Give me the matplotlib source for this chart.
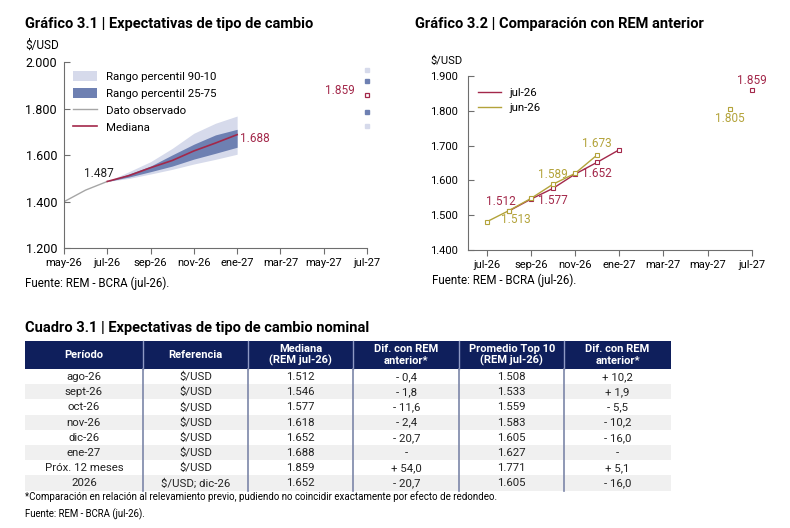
import matplotlib.pyplot as plt
from matplotlib.patches import Rectangle, Patch
from matplotlib.lines import Line2D
from matplotlib.ticker import FuncFormatter

plt.rcParams['font.family'] = ['Roboto', 'DejaVu Sans']

# meses del eje (posicion = indice en la lista)
meses = ['may-26', 'jun-26', 'jul-26', 'ago-26', 'sep-26', 'oct-26', 'nov-26',
         'dic-26', 'ene-27', 'feb-27', 'mar-27', 'abr-27', 'may-27', 'jun-27', 'jul-27']
ticks_izq = ['may-26', 'jul-26', 'sep-26', 'nov-26', 'ene-27', 'mar-27', 'may-27', 'jul-27']
ticks_der = ['jul-26', 'sep-26', 'nov-26', 'ene-27', 'mar-27', 'may-27', 'jul-27']

# Grafico 3.1
obs_meses = ['may-26', 'jun-26', 'jul-26']
obs_valores = [1400, 1450, 1487]
proy_meses = ['jul-26', 'ago-26', 'sep-26', 'oct-26', 'nov-26', 'dic-26', 'ene-27']
mediana = [1487, 1512, 1546, 1577, 1618, 1652, 1688]
p90 = [1487, 1529, 1572, 1629, 1694, 1737, 1768]
p75 = [1487, 1519, 1553, 1601, 1647, 1687, 1711]
p25 = [1487, 1506, 1529, 1553, 1583, 1608, 1634]
p10 = [1487, 1500, 1519, 1539, 1562, 1582, 1604]
mes_12m = 'jul-27'
p12m = {'p10': 1725, 'p25': 1785, 'med': 1859, 'p75': 1920, 'p90': 1965}

# Grafico 3.2
jul_meses = ['ago-26', 'sep-26', 'oct-26', 'nov-26', 'dic-26', 'ene-27']
jul_valores = [1512, 1546, 1577, 1618, 1652, 1688]
jul_12m = ('jul-27', 1859)
jun_meses = ['jul-26', 'ago-26', 'sep-26', 'oct-26', 'nov-26', 'dic-26']
jun_valores = [1481, 1513, 1548, 1589, 1620, 1673]
jun_12m = ('jun-27', 1805)

# Cuadro 3.1
encabezado = ['Período', 'Referencia', 'Mediana\n(REM jul-26)', 'Dif. con REM\nanterior*',
              'Promedio Top 10\n(REM jul-26)', 'Dif. con REM\nanterior*']
periodo = ['ago-26', 'sept-26', 'oct-26', 'nov-26', 'dic-26', 'ene-27', 'Próx. 12 meses', '2026']
referencia = ['\\$/USD'] * 7 + ['\\$/USD; dic-26']
mediana_tab = [1512, 1546, 1577, 1618, 1652, 1688, 1859, 1652]
dif_mediana = [-0.4, -1.8, -11.6, -2.4, -20.7, None, 54.0, -20.7]
top10 = [1508, 1533, 1559, 1583, 1605, 1627, 1771, 1605]
dif_top10 = [10.2, 1.9, -5.5, -10.2, -16.0, None, 5.1, -16.0]

ROJO = '#A3284A'
OLIVA = '#B3A33A'
CLARO = '#D6DAEB'
OSCURO = '#6E80B2'
GRIS = '#A6A6A6'
NAVY = '#0F1F5C'
EJE = '#6E6E6E'


def pos(m):
    return meses.index(m)


def miles(v, _=None):
    return f'{v:,.0f}'.replace(',', '.')


def dif(v):
    if v is None:
        return '-'
    signo = '+' if v > 0 else '-'
    return f'{signo} {abs(v):.1f}'.replace('.', ',')


W, H = 790, 528
fig = plt.figure(figsize=(W / 100, H / 100), dpi=100)


def px_ax(x0, y0, x1, y1):
    return fig.add_axes([x0 / W, 1 - y1 / H, (x1 - x0) / W, (y1 - y0) / H])


def estilo(ax, ysize):
    for s in ['top', 'right']:
        ax.spines[s].set_visible(False)
    for s in ['left', 'bottom']:
        ax.spines[s].set_color(EJE)
        ax.spines[s].set_linewidth(0.8)
    ax.tick_params(axis='y', direction='in', length=4, color=EJE, labelsize=ysize, pad=5)
    ax.tick_params(axis='x', direction='out', length=4, color=EJE, labelsize=8, pad=3)
    ax.yaxis.set_major_formatter(FuncFormatter(miles))


# ---- Grafico 3.1
ax1 = px_ax(64, 62, 367, 248.3)
xp = [pos(m) for m in proy_meses]
ax1.fill_between(xp, p10, p90, color=CLARO, lw=0)
ax1.fill_between(xp, p25, p75, color=OSCURO, lw=0)
ax1.plot([pos(m) for m in obs_meses], obs_valores, color=GRIS, lw=1)
ax1.plot(xp, mediana, color=ROJO, lw=1.2)
x12 = pos(mes_12m)
ax1.plot([x12, x12], [p12m['p10'], p12m['p90']], 's', color=CLARO, ms=3.5, clip_on=False)
ax1.plot([x12, x12], [p12m['p25'], p12m['p75']], 's', color=OSCURO, ms=3.5, clip_on=False)
ax1.plot([x12], [p12m['med']], 's', mfc='white', mec=ROJO, mew=0.9, ms=3.5, clip_on=False)
ax1.set_xlim(0, 14)
ax1.set_ylim(1200, 2000)
ax1.set_yticks([1200, 1400, 1600, 1800, 2000])
ax1.set_xticks([pos(m) for m in ticks_izq], ticks_izq)
estilo(ax1, 9)
ax1.annotate(miles(obs_valores[-1]), (pos(obs_meses[-1]), obs_valores[-1]), xytext=(-6, 6),
             textcoords='offset points', ha='center', va='center', fontsize=8.5, color='#222222')
ax1.annotate(miles(mediana[-1]), (xp[-1], mediana[-1]), xytext=(2, -3),
             textcoords='offset points', ha='left', va='center', fontsize=8.5, color=ROJO)
ax1.annotate(miles(p12m['med']), (x12, p12m['med']), xytext=(-8.5, 3),
             textcoords='offset points', ha='right', va='center', fontsize=8.5, color=ROJO)
h1 = [Patch(color=CLARO, lw=0), Patch(color=OSCURO, lw=0),
      Line2D([], [], color=GRIS, lw=1), Line2D([], [], color=ROJO, lw=1.2)]
ax1.legend(h1, ['Rango percentil 90-10', 'Rango percentil 25-75', 'Dato observado', 'Mediana'],
           loc='upper left', bbox_to_anchor=(0.015, 0.975), frameon=False, fontsize=8.2,
           handlelength=2.1, handleheight=0.9, handletextpad=0.8, labelspacing=0.55,
           borderaxespad=0)
fig.text(25 / W, 1 - 45 / H, '\\$/USD', fontsize=8.5, va='center', ha='left')

# ---- Grafico 3.2
ax2 = px_ax(467.7, 76, 751.7, 250)
ax2.plot([pos(m) for m in jul_meses], jul_valores, color=ROJO, lw=1, marker='s', ms=3,
         mfc='white', mew=0.8)
ax2.plot([pos(m) for m in jun_meses], jun_valores, color=OLIVA, lw=1, marker='s', ms=3,
         mfc='white', mew=0.8)
ax2.plot([pos(jul_12m[0])], [jul_12m[1]], 's', mfc='white', mec=ROJO, mew=0.8, ms=3, clip_on=False)
ax2.plot([pos(jun_12m[0])], [jun_12m[1]], 's', mfc='white', mec=OLIVA, mew=0.8, ms=3, clip_on=False)
ax2.set_xlim(pos('jul-26') - 0.86, pos('jul-27'))
ax2.set_ylim(1400, 1900)
ax2.set_yticks([1400, 1500, 1600, 1700, 1800, 1900])
ax2.set_xticks([pos(m) for m in ticks_der], ticks_der)
estilo(ax2, 8)
ax2.tick_params(axis='y', pad=7)


def etiqueta(ax, mes, valor, dx, dy, color):
    ax.annotate(miles(valor), (pos(mes), valor), xytext=(dx, dy), textcoords='offset points',
                ha='center', va='center', fontsize=8.5, color=color)


etiqueta(ax2, 'ago-26', 1512, -5.5, 6.5, ROJO)
etiqueta(ax2, 'ago-26', 1513, 5, -6.7, OLIVA)
etiqueta(ax2, 'oct-26', 1577, 0, -9, ROJO)
etiqueta(ax2, 'oct-26', 1589, 0, 7.3, OLIVA)
etiqueta(ax2, 'dic-26', 1652, 0, -8.4, ROJO)
etiqueta(ax2, 'dic-26', 1673, 0, 8, OLIVA)
etiqueta(ax2, jun_12m[0], jun_12m[1], 0, -6.5, OLIVA)
etiqueta(ax2, jul_12m[0], jul_12m[1], 0, 7.3, ROJO)
h2 = [Line2D([], [], color=ROJO, lw=1), Line2D([], [], color=OLIVA, lw=1)]
ax2.legend(h2, ['jul-26', 'jun-26'], loc='upper left', bbox_to_anchor=(0.02, 0.96),
           frameon=False, fontsize=8.2, handlelength=2.0, handletextpad=0.75,
           labelspacing=0.5, borderaxespad=0)
fig.text(430 / W, 1 - 61 / H, '\\$/USD', fontsize=8, va='center', ha='left')

# titulos y fuentes
fig.text(25 / W, 1 - 24 / H, 'Gráfico 3.1 | Expectativas de tipo de cambio',
         fontsize=10.5, fontweight='bold', va='center')
fig.text(415 / W, 1 - 24 / H, 'Gráfico 3.2 | Comparación con REM anterior',
         fontsize=10.5, fontweight='bold', va='center')
fig.text(25 / W, 1 - 283 / H, 'Fuente: REM - BCRA (jul-26).', fontsize=8.3, va='center')
fig.text(432 / W, 1 - 280 / H, 'Fuente: REM - BCRA (jul-26).', fontsize=8.3, va='center')
fig.text(25 / W, 1 - 328 / H, 'Cuadro 3.1 | Expectativas de tipo de cambio nominal',
         fontsize=10.5, fontweight='bold', va='center')

# ---- Cuadro 3.1
axt = fig.add_axes([0, 0, 1, 1])
axt.set_xlim(0, W)
axt.set_ylim(H, 0)
axt.axis('off')
anchos = [117.7, 105.6, 105, 106, 105, 106.4]
bordes = [25]
for a in anchos:
    bordes.append(bordes[-1] + a)
y_enc, alto_enc, alto_fila = 341, 28, 15.2
axt.add_patch(Rectangle((bordes[0], y_enc), bordes[-1] - bordes[0], alto_enc, color=NAVY, lw=0))
for j, txt in enumerate(encabezado):
    axt.text((bordes[j] + bordes[j + 1]) / 2, y_enc + alto_enc / 2, txt, ha='center', va='center',
             color='white', fontsize=8, fontweight='bold', linespacing=1.15)
filas = list(zip(periodo, referencia, [miles(v) for v in mediana_tab],
                 [dif(v) for v in dif_mediana], [miles(v) for v in top10],
                 [dif(v) for v in dif_top10]))
y0 = y_enc + alto_enc
for i, fila in enumerate(filas):
    yf = y0 + i * alto_fila
    if i % 2 == 1:
        axt.add_patch(Rectangle((bordes[0], yf), bordes[-1] - bordes[0], alto_fila,
                                color='#F0F0F0', lw=0))
    for j, txt in enumerate(fila):
        axt.text((bordes[j] + bordes[j + 1]) / 2, yf + alto_fila / 2 + 0.5, txt, ha='center',
                 va='center', fontsize=8.2, color='#222222')
y_fin = y0 + len(filas) * alto_fila
for xb in bordes[1:-1]:
    axt.plot([xb, xb], [y_enc, y0], color='#8E99C4', lw=1)
    axt.plot([xb, xb], [y0, y_fin], color='#7C86A8', lw=1.2)
fig.text(25 / W, 1 - 496.5 / H, '*Comparación en relación al relevamiento previo, pudiendo no '
         'coincidir exactamente por efecto de redondeo.', fontsize=7, va='center')
fig.text(25 / W, 1 - 514 / H, 'Fuente: REM - BCRA (jul-26).', fontsize=6.9, va='center')

fig.savefig('out.png', dpi=100)
